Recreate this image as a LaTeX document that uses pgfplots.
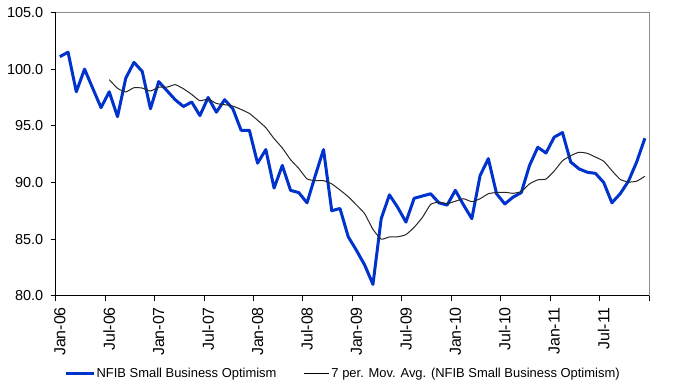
\documentclass[border=0pt]{standalone}
\usepackage{fontspec}
\setmainfont{Liberation Sans}
\usepackage{pgfplots}
\pgfplotsset{compat=1.18}
\definecolor{nfib}{RGB}{0,51,204}
\definecolor{frame}{RGB}{140,140,140}
\begin{document}
\begin{tikzpicture}
\useasboundingbox (0,0) rectangle (675bp,392bp);
\begin{axis}[
  at={(55.7bp,96.3bp)}, anchor=south west,
  scale only axis, width=593.3bp, height=283.2bp,
  xmin=-0.5, xmax=71.5, ymin=80, ymax=105,
  axis x line*=bottom, axis y line*=left,
  axis line style={black, line width=1.3bp, -},
  ytick={80,85,...,105},
  yticklabel style={/pgf/number format/fixed, /pgf/number format/precision=1, /pgf/number format/fixed zerofill, font=\fontsize{14.5}{16}\selectfont},
  yticklabel shift={4bp},
  /pgf/number format/assume math mode=true,
  xtick={0,6,...,66},
  xticklabels={Jan-06,Jul-06,Jan-07,Jul-07,Jan-08,Jul-08,Jan-09,Jul-09,Jan-10,Jul-10,Jan-11,Jul-11},
  xticklabel style={rotate=90, anchor=east, font=\fontsize{16}{18}\selectfont},
  xticklabel shift={3bp},
  minor xtick={-0.5,5.5,...,71.5},
  major x tick style={draw=none},
  minor x tick style={black, line width=1bp},
  ytick style={black, line width=1bp},
  tick align=outside,
  major tick length=5bp, minor tick length=5bp,
  clip=false,
  legend style={at={(0.484,-0.275)}, anchor=center, draw=none, fill=none,
    font=\fontsize{13}{15}\selectfont, legend columns=2,
    nodes={inner sep=1.5bp},
    /tikz/every even column/.append style={column sep=26bp}},
  legend cell align=left,
]
\addplot[nfib, line width=3bp, line join=round, legend image code/.code={\draw[nfib, line width=2.5bp] (0bp,0bp) -- (28bp,0bp);}] coordinates {
(0,101.1) (1,101.5) (2,98.0) (3,100.0) (4,98.3) (5,96.6) (6,98.0) (7,95.8) (8,99.2) (9,100.6) (10,99.8) (11,96.5)
(12,98.9) (13,98.1) (14,97.3) (15,96.7) (16,97.1) (17,95.9) (18,97.5) (19,96.2) (20,97.3) (21,96.5) (22,94.6) (23,94.6)
(24,91.7) (25,92.9) (26,89.5) (27,91.5) (28,89.3) (29,89.1) (30,88.2) (31,90.6) (32,92.9) (33,87.5) (34,87.7) (35,85.2)
(36,84.0) (37,82.7) (38,81.0) (39,86.8) (40,88.9) (41,87.8) (42,86.5) (43,88.6) (44,88.8) (45,89.0) (46,88.2) (47,88.0)
(48,89.3) (49,88.0) (50,86.8) (51,90.6) (52,92.1) (53,89.0) (54,88.1) (55,88.7) (56,89.1) (57,91.5) (58,93.1) (59,92.6)
(60,94.0) (61,94.4) (62,91.8) (63,91.2) (64,90.9) (65,90.8) (66,90.0) (67,88.2) (68,89.0) (69,90.1) (70,91.8) (71,93.9)
};
\addlegendentry{NFIB Small Business Optimism}
\addplot[black!85, line width=1bp, smooth, tension=0.3, legend image code/.code={\draw[black, line width=1bp] (0bp,0bp) -- (25bp,0bp);}] coordinates {
(6,99.07) (7,98.31) (8,97.99) (9,98.36) (10,98.33) (11,98.07) (12,98.40) (13,98.41) (14,98.63) (15,98.27) (16,97.77) (17,97.21)
(18,97.36) (19,96.97) (20,96.86) (21,96.74) (22,96.44) (23,96.09) (24,95.49) (25,94.83) (26,93.87) (27,93.04) (28,92.01) (29,91.23)
(30,90.31) (31,90.16) (32,90.16) (33,89.87) (34,89.33) (35,88.74) (36,88.01) (37,87.23) (38,85.86) (39,84.99) (40,85.19) (41,85.20)
(42,85.39) (43,86.04) (44,86.91) (45,88.06) (46,88.26) (47,88.13) (48,88.34) (49,88.56) (50,88.30) (51,88.56) (52,89.00) (53,89.11)
(54,89.13) (55,89.04) (56,89.20) (57,89.87) (58,90.23) (59,90.30) (60,91.01) (61,91.91) (62,92.36) (63,92.66) (64,92.57) (65,92.24)
(66,91.87) (67,91.04) (68,90.27) (69,90.03) (70,90.11) (71,90.54)
};
\addlegendentry{7 per. Mov. Avg. (NFIB Small Business Optimism)}
\draw[frame, line width=1bp] (rel axis cs:0,1) -- (rel axis cs:1,1) -- (rel axis cs:1,0);
\end{axis}
\end{tikzpicture}
\end{document}
